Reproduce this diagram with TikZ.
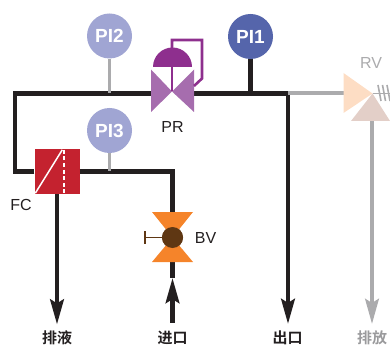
\documentclass[tikz,border=0pt]{standalone}
\usepackage{fontspec}
\setmainfont{Liberation Sans}
\newfontfamily\cjkfont{Noto Sans CJK SC}[BoldFont={Noto Sans CJK SC Bold}]
\usetikzlibrary{calc, arrows.meta, positioning}
\usepackage{xcolor}
\definecolor{pipeblack}{HTML}{231F20}
\definecolor{pipegray}{HTML}{ABABAD}
\definecolor{gaugelight}{HTML}{A0A5D3}
\definecolor{gaugedark}{HTML}{5565AB}
\definecolor{prlight}{HTML}{A66DAE}
\definecolor{prdark}{HTML}{8E2F8E}
\definecolor{fcred}{HTML}{C4222F}
\definecolor{bvorange}{HTML}{F5842A}
\definecolor{bvbrown}{HTML}{5F3713}
\definecolor{rvlight}{HTML}{FDDDC4}
\definecolor{rvdark}{HTML}{E3CFC8}

\begin{document}
\begin{tikzpicture}[x=1pt, y=-1pt]
	\tikzstyle{gauge} = [circle, minimum size=45pt, inner sep=0pt, text=white, font=\fontsize{19}{19}\selectfont\bfseries]
	\tikzstyle{label} = [font=\fontsize{16}{16}\selectfont, text=pipeblack, inner sep=0pt]
	\tikzstyle{outlet} = [font=\cjkfont\fontsize{15}{15}\selectfont\bfseries, text=pipeblack, inner sep=0pt]
	\tikzstyle{pipe} = [line width=4.6pt, draw=pipeblack]
	\tikzstyle{pipearrow} = [pipe, -{Stealth[length=25pt, width=13.5pt, inset=4pt]}]
	\tikzstyle{branch} = [line width=3.4pt, draw=pipegray]
	\tikzstyle{vent} = [line width=4pt, draw=pipegray]

	\useasboundingbox (0, 0) rectangle (390, 347);

	\node[gauge, fill=gaugelight]	at (109.5, 36)		(pi2)	{PI2};
	\node[gauge, fill=gaugelight]	at (109.5, 130.5)	(pi3)	{PI3};
	\node[gauge, fill=gaugedark]	at (250.5, 36.5)	(pi1)	{PI1};
	\node[rectangle, fill=fcred, minimum size=45pt, inner sep=0pt] at (57, 171.5) (fc) {};
	\node[circle, fill=bvbrown, minimum size=21pt, inner sep=0pt] at (172.5, 237.5) (bv) {};

	\coordinate (cornerTL)	at (15, 93.5);
	\coordinate (prLeft)	at (151.5, 93.5);
	\coordinate (prRight)	at (193.5, 93.5);
	\coordinate (prCentre)	at (172, 91.5);
	\coordinate (prTop)		at (172, 48);
	\coordinate (tee2)		at (109.5, 93.5);
	\coordinate (tee1)		at (250.5, 93.5);
	\coordinate (teeOut)	at (288, 93.5);
	\coordinate (teeFC)		at (109.5, 171.5);
	\coordinate (bvTop)		at (172.5, 213);
	\coordinate (bvBottom)	at (172.5, 262);
	\coordinate (rvIn)		at (344, 93.5);
	\coordinate (rvApex)	at (372.5, 93.5);
	\coordinate (rvOut)		at (390, 93.5);
	\coordinate (rvBase)	at (372, 121);

	\node[outlet]					at (57, 337.5)		(drain)	{排液};
	\node[outlet]					at (172.5, 337.5)	(inlet)	{进口};
	\node[outlet]					at (287.5, 337.5)	(outlet){出口};
	\node[outlet, text=pipegray!90!black]	at (372, 337.5)	(purge)	{排放};
	\coordinate (drainEnd)	at (57, 324.5);
	\coordinate (inletEnd)	at (172.5, 322.5);
	\coordinate (inletTip)	at (172.5, 278);
	\coordinate (outletEnd)	at (288, 324);
	\coordinate (purgeEnd)	at (372, 324);

	\draw [pipe] 		(fc) -| (cornerTL) -- (prLeft);
	\draw [pipe] 		(prRight) -- (teeOut);
	\draw [pipe] 		(pi1) -- (tee1);
	\draw [pipe] 		(fc) -| (bvTop);
	\draw [pipe] 		(bvBottom) -- (inletTip);
	\draw [pipearrow] 	(inletEnd) -- (inletTip);
	\draw [pipearrow] 	(fc) -- (drainEnd);
	\draw [pipearrow] 	(teeOut) -- (outletEnd);
	\draw [branch] 		(pi2) -- (tee2);
	\draw [branch] 		(pi3) -- (teeFC);
	\draw [vent] 		(teeOut) -- (rvIn);
	\draw [vent, -{Stealth[length=25pt, width=13.5pt, inset=4pt]}] (rvBase) -- (purgeEnd);
	\draw [pipegray, line width=1.2pt] (rvApex) -- (rvOut);
	\foreach \x in {378, 382.5, 387}
		\draw [pipegray, line width=1.6pt] (\x, 85) -- (\x+3, 101);

	% valves
	\fill [prlight] (151, 69.5) -- (172, 91.5) -- (151, 112) -- cycle;
	\fill [prlight] (194, 69.5) -- (172, 91.5) -- (194, 112) -- cycle;
	\fill [prdark] (153, 67) arc [start angle=180, end angle=360, x radius=19.5, y radius=19.5] -- cycle;
	\draw [prdark, line width=2.8pt] (prCentre) -- (prTop);
	\draw [prdark, line width=2.6pt] (prTop) -- (172, 40) -- (202, 40) -- (202, 78.5) -- (194, 86);
	\fill [bvorange] (152, 212) -- (193, 212) -- (172.5, 237.5) -- cycle;
	\fill [bvorange] (152, 262) -- (193, 262) -- (172.5, 237.5) -- cycle;
	\fill [rvlight] (343.5, 73) -- (372.5, 93.5) -- (343.5, 113) -- cycle;
	\fill [rvdark] (351, 121) -- (372.5, 93.5) -- (390, 121) -- cycle;

	\draw [white, line width=1.5pt] ($(fc.south west)+(1, -1)$) -- ($(fc.north west)+(28, 1)$);
	\draw [white, line width=2pt, dash pattern=on 4pt off 2.6pt] ($(fc.north)+(6.5, 1)$) -- ($(fc.south)+(6.5, 0)$);
	\node[circle, fill=bvbrown, minimum size=21pt, inner sep=0pt] at (bv) {};
	\draw [bvbrown, line width=1.2pt] (bv) -- (145, 237.5);
	\draw [bvbrown, line width=1.6pt] (145, 231) -- (145, 244);

	\node[label]					at (172.5, 127)		(prText)	{PR};
	\node[label]					at (21, 205)		(fcText)	{FC};
	\node[label]					at (205.5, 238)		(bvText)	{BV};
	\node[label, text=pipegray]		at (371, 63)		(rvText)	{RV};
\end{tikzpicture}
\end{document}
